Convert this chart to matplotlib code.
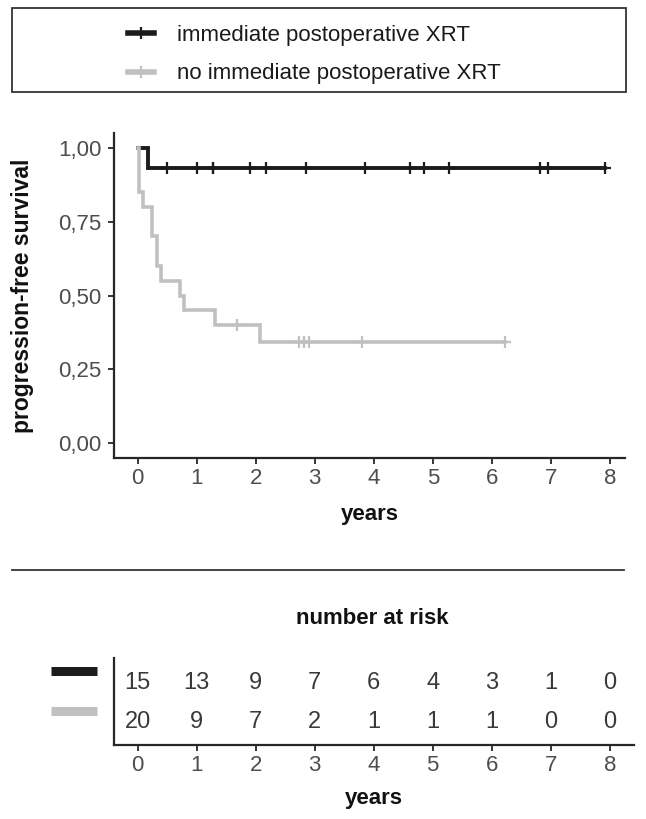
import numpy as np
import matplotlib
matplotlib.use("Agg")
import matplotlib.pyplot as plt
from matplotlib.lines import Line2D
from matplotlib.patches import Rectangle

plt.rcParams['font.family'] = ['Liberation Sans', 'DejaVu Sans']

# Kaplan-Meier steps (years, survival)
xrt_times = [0.0, 0.18]
xrt_surv = [1.0, 0.933]
xrt_end = 7.92
xrt_censor = [0.50, 1.01, 1.28, 1.28, 1.91, 2.17, 2.85, 3.85, 4.61, 4.85, 5.28, 6.82, 6.95, 7.92]

noxrt_times = [0.0, 0.02, 0.09, 0.24, 0.32, 0.39, 0.72, 0.78, 1.31, 2.08]
noxrt_surv = [1.0, 0.85, 0.80, 0.70, 0.60, 0.55, 0.50, 0.45, 0.40, 0.343]
noxrt_end = 6.23
noxrt_censor = [1.69, 2.73, 2.81, 2.81, 2.90, 3.80, 6.23]

labels = ["immediate postoperative XRT", "no immediate postoperative XRT"]
colors = ["#1c1c1c", "#c0c0c0"]

risk_times = [0, 1, 2, 3, 4, 5, 6, 7, 8]
risk_xrt = [15, 13, 9, 7, 6, 4, 3, 1, 0]
risk_noxrt = [20, 9, 7, 2, 1, 1, 1, 0, 0]

y_ticks = [0.0, 0.25, 0.5, 0.75, 1.0]
y_ticklabels = ["0,00", "0,25", "0,50", "0,75", "1,00"]

W, H = 646, 819
fig = plt.figure(figsize=(W / 100, H / 100), dpi=100)

def fx(px):
    return px / W

def fy(py):
    return 1 - py / H

axis_col = "#262626"
tick_col = "#4d4d4d"

def style_axes(ax):
    for s in ("top", "right"):
        ax.spines[s].set_visible(False)
    for s in ("left", "bottom"):
        ax.spines[s].set_color(axis_col)
        ax.spines[s].set_linewidth(1.6)
    ax.tick_params(colors=axis_col, labelcolor=tick_col, width=1.3, length=4, labelsize=16)

# ---- main survival plot
ax = fig.add_axes([fx(114), fy(458), fx(625 - 114), (458 - 133) / H])
style_axes(ax)

groups = [
    (xrt_times, xrt_surv, xrt_end, xrt_censor, colors[0], 2.8),
    (noxrt_times, noxrt_surv, noxrt_end, noxrt_censor, colors[1], 2.6),
]
for times, surv, end, cens, col, lw in groups:
    xs = np.array(times + [end])
    ys = np.array(surv + [surv[-1]])
    ax.step(xs, ys, where="post", color=col, lw=lw, solid_joinstyle="miter")
    # censor marks sit on the curve level at their time
    idx = np.searchsorted(times, cens, side="right") - 1
    ax.plot(cens, np.array(surv)[idx], ls="none", marker="+", ms=9, mew=1.6, color=col)

ax.set_xlim(-0.4, 8.254)
ax.set_ylim(-0.05, 1.05)
ax.set_xticks(risk_times)
ax.set_yticks(y_ticks)
ax.set_yticklabels(y_ticklabels)
ax.tick_params(axis="y", pad=5)
ax.tick_params(axis="x", pad=3)
ax.text(-0.18, 0.5, "progression-free survival", transform=ax.transAxes, rotation=90,
        ha="center", va="center", fontsize=16.5, fontweight="bold", color="#111111")
ax.text(0.5, -0.175, "years", transform=ax.transAxes, ha="center", va="center",
        fontsize=16, fontweight="bold", color="#111111")

# ---- legend box
handles = [Line2D([], [], color=c, lw=4, marker="+", ms=9, mew=1.6) for c in colors]
fig.legend(handles, labels, loc="upper left", bbox_to_anchor=(fx(128), fy(25)),
           frameon=False, borderpad=0, borderaxespad=0, handlelength=1.15,
           handletextpad=1.05, labelspacing=0.78, fontsize=16, labelcolor="#1a1a1a")
fig.add_artist(Rectangle((fx(12), fy(92)), fx(626 - 12), (92 - 8) / H, transform=fig.transFigure,
                         fill=False, edgecolor="#333333", lw=1.3))

# separator line
fig.add_artist(Line2D([fx(12), fx(624)], [fy(570), fy(570)], transform=fig.transFigure,
                      color="#333333", lw=1.3))

# ---- number at risk table
fig.text(fx(372), fy(618), "number at risk", ha="center", va="center",
         fontsize=16, fontweight="bold", color="#111111")

rax = fig.add_axes([fx(114), fy(745), fx(634 - 114), (745 - 658) / H])
style_axes(rax)
rax.set_xlim(-0.4, 8.41)
rax.set_ylim(0, 1)
rax.set_xticks(risk_times)
rax.set_yticks([])
rax.tick_params(axis="x", pad=3)

row_y = [0.713, 0.27]
bar_y = [0.85, 0.39]
for counts, ry, by, col in zip([risk_xrt, risk_noxrt], row_y, bar_y, colors):
    for t, n in zip(risk_times, counts):
        rax.text(t, ry, str(n), transform=rax.get_xaxis_transform(), ha="center", va="center",
                 fontsize=17, color="#3a3a3a")
    rax.plot([-0.121, -0.033], [by, by], transform=rax.transAxes, clip_on=False,
             color=col, lw=6.5, solid_capstyle="butt")

rax.text(0.5, -0.62, "years", transform=rax.transAxes, ha="center", va="center",
         fontsize=16, fontweight="bold", color="#111111")

fig.savefig("out.png", dpi=100)
